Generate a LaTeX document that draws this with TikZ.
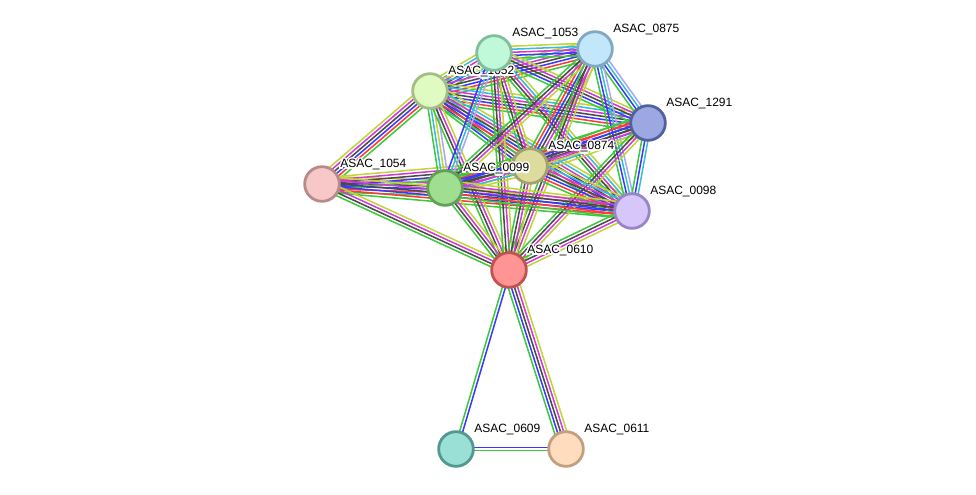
\documentclass[tikz,border=0pt]{standalone}
\usepackage{fontspec}
\setmainfont{Liberation Sans}
\usepackage[copies]{contour}
\usetikzlibrary{calc,backgrounds}
\contourlength{1.1pt}
\contournumber{16}

% evidence channel colours
\definecolor{evgrn}{HTML}{3DC83D}
\definecolor{evred}{HTML}{FF3A3A}
\definecolor{evblu}{HTML}{3A3AFF}
\definecolor{evblk}{HTML}{4A4A4A}
\definecolor{evmag}{HTML}{D23AD2}
\definecolor{evcyn}{HTML}{3ABCD8}
\definecolor{evyel}{HTML}{C2D43A}
\definecolor{evlav}{HTML}{A8A8F4}

\tikzset{
  prot/.style={circle, minimum size=26pt, inner sep=0pt, line width=2.1pt},
  lbl/.style={anchor=base west, inner sep=0pt, font=\fontsize{9}{10}\selectfont},
  link/.style={line width=1.15pt}
}

% one coloured line per evidence channel, side by side
\newcommand{\evlink}[3]{%
  \foreach \c [count=\n] in {#3} {\xdef\ncol{\n}}%
  \foreach \c [count=\k] in {#3} {%
    \pgfmathsetmacro{\off}{(\k-(\ncol+1)/2)*2.3}%
    \draw[link, ev\c] ($(#1.center)!\off pt!90:(#2.center)$) -- ($(#2.center)!\off pt!-90:(#1.center)$);
  }%
}

\newcommand{\protein}[5]{% name, x, y, fill, border
  \definecolor{fill#1}{HTML}{#4}%
  \definecolor{edge#1}{HTML}{#5}%
  \node[prot, fill=fill#1, draw=edge#1] (n#1) at (#2,#3) {};
  \node[lbl] (l#1) at ([shift={(13.5pt,12pt)}]n#1.center) {\contour{white}{ASAC\_#1}};
}

\begin{document}
\begin{tikzpicture}[x=0.75pt, y=-0.75pt]
  \useasboundingbox (0,0) rectangle (976,495);

  % proteins
  \protein{1052}{430}{91}{E0FBC2}{A3BD84}
  \protein{1053}{494}{53}{C0F8DA}{80BE9C}
  \protein{0875}{595}{49}{C2E6FA}{80A8C0}
  \protein{1291}{648}{123}{9CA8E2}{52619E}
  \protein{1054}{322}{184}{F8C8C8}{B88A8A}
  \protein{0874}{530}{166}{DEDC9C}{A4A070}
  \protein{0099}{445}{188}{A0DE92}{62A055}
  \protein{0098}{632}{211}{D6C6FA}{9A84C8}
  \protein{0610}{509}{270}{FF9494}{C25252}
  \protein{0609}{456}{449}{9AE0D6}{52988E}
  \protein{0611}{566}{449}{FFDCBE}{C0A080}

  \begin{pgfonlayer}{background}
    % dense cluster
    \evlink{n1054}{n1052}{grn,red,blu,blk,mag,yel}
    \evlink{n1054}{n0099}{grn,red,blu,blk,mag,yel}
    \evlink{n1054}{n0874}{grn,blu,blk,mag,yel}
    \evlink{n1054}{n0098}{grn,red,blu,blk,mag,yel}
    \evlink{n1054}{n0610}{grn,blk,mag,yel}
    \evlink{n1052}{n1053}{grn,blu,blk,mag,cyn,yel}
    \evlink{n1052}{n0875}{grn,red,blu,blk,mag,cyn,yel}
    \evlink{n1052}{n1291}{grn,red,blu,blk,mag,cyn,yel}
    \evlink{n1052}{n0874}{grn,blu,blk,mag,cyn,yel}
    \evlink{n1052}{n0099}{grn,cyn,yel,lav}
    \evlink{n1052}{n0098}{grn,red,blu,blk,mag,cyn,yel}
    \evlink{n1052}{n0610}{grn,blk,mag,yel}
    \evlink{n1053}{n0875}{grn,blu,mag,cyn,yel}
    \evlink{n1053}{n1291}{grn,blu,blk,mag,yel}
    \evlink{n1053}{n0874}{grn,blk,mag,yel}
    \evlink{n1053}{n0099}{blu,cyn,lav}
    \evlink{n1053}{n0098}{grn,blk,mag,cyn,yel}
    \evlink{n1053}{n0610}{grn,blk,mag,yel}
    \evlink{n0875}{n1291}{grn,blu,cyn,lav}
    \evlink{n0875}{n0874}{grn,red,blu,blk,mag,yel}
    \evlink{n0875}{n0099}{grn,blk,mag,yel}
    \evlink{n0875}{n0098}{grn,blu,cyn,lav}
    \evlink{n0875}{n0610}{grn,blk,mag,yel}
    \evlink{n1291}{n0874}{grn,red,blu,blk,mag,cyn,yel}
    \evlink{n1291}{n0099}{grn,red,blu,blk,mag,yel}
    \evlink{n1291}{n0098}{grn,blu,cyn}
    \evlink{n1291}{n0610}{grn,blk,mag,yel}
    \evlink{n0874}{n0099}{grn,blu,blk,mag,cyn,yel}
    \evlink{n0874}{n0098}{grn,red,blu,blk,mag,cyn,yel}
    \evlink{n0874}{n0610}{grn,blk,mag,yel}
    \evlink{n0099}{n0098}{grn,red,blu,blk,mag,yel}
    \evlink{n0099}{n0610}{grn,blk,mag,yel}
    \evlink{n0098}{n0610}{grn,blk,mag,yel}
    % operon neighbours
    \evlink{n0610}{n0609}{grn,blu}
    \evlink{n0610}{n0611}{grn,blu,blk,mag,yel}
    \evlink{n0609}{n0611}{grn,blu}
  \end{pgfonlayer}
\end{tikzpicture}
\end{document}
